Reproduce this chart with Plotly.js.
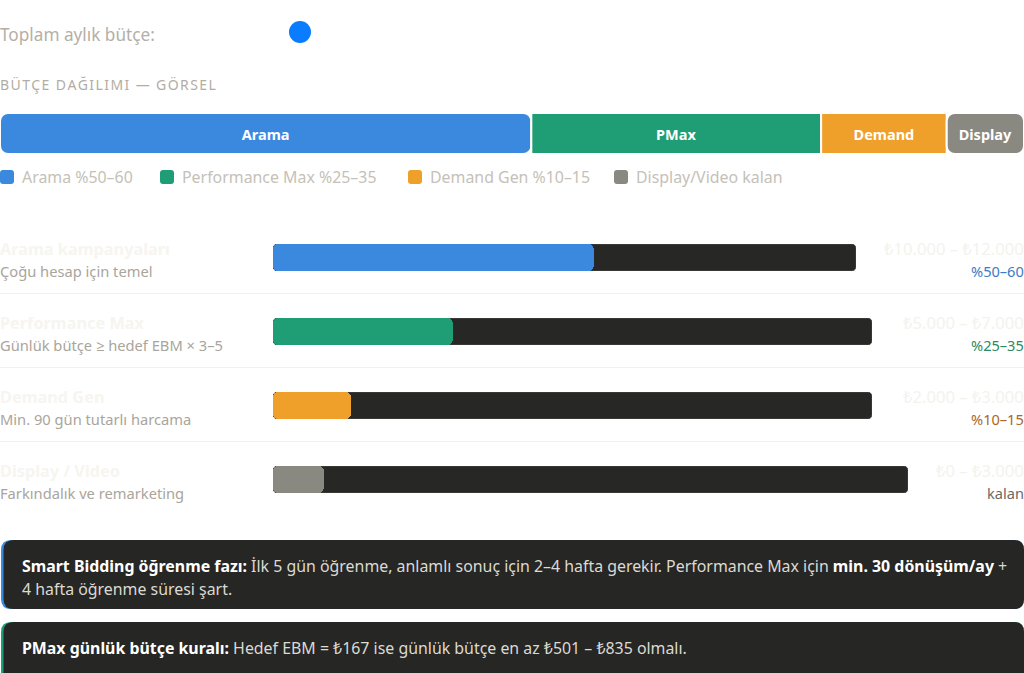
<!DOCTYPE html>
<html><head><meta charset="utf-8">
<script src="https://cdn.plot.ly/plotly-3.0.1.min.js"></script>
<style>html,body{margin:0;padding:0;background:#fff;overflow:hidden}#c{width:1024px;height:673px}</style>
</head><body><div id="c"></div>
<script>
// ---- data ----
const channels = ['Arama','PMax','Demand','Display'];
const shares = [55, 30, 13, 8];
const legendLabels = ['Arama %50–60','Performance Max %25–35','Demand Gen %10–15','Display/Video kalan'];
const rowTitles = ['Arama kampanyaları','Performance Max','Demand Gen','Display / Video'];
const rowSubs = ['Çoğu hesap için temel','Günlük bütçe ≥ hedef EBM × 3–5','Min. 90 gün tutarlı harcama','Farkındalık ve remarketing'];
const amounts = ['₺10.000 – ₺12.000','₺5.000 – ₺7.000','₺2.000 – ₺3.000','₺0 – ₺3.000'];
const pctLabels = ['%50–60','%25–35','%10–15','kalan'];
const trackMax = [100, 100, 100, 100];

// ---- styles / layout positions ----
const colors = ['#3a89de','#1f9e75','#efa02b','#8a8981'];
const pctColors = ['#3b7cc4','#2a8a63','#a8682a','#6b6a66'];
const FONT = 'Noto Sans, Open Sans, sans-serif';
const W = 1024, H = 673;
const px = x => x / W, py = y => 1 - y / H;
const legendX = [0, 160, 408, 614];
const rowCenters = [257.5, 331.5, 405.5, 479.5];
const trackLeft = 273, trackRight = [856, 872, 872, 908];
const barHalf = 13.5;

const traces = [];
// stacked allocation bar
const total = shares.reduce((a,b)=>a+b,0);
let cum = 0;
shares.forEach((v,i)=>{
  const start = cum; cum += v;
  const first = i === 0, last = i === shares.length-1;
  traces.push({
    type:'bar', orientation:'h', y:[0], width:[1],
    base: first ? [start+v] : [start], x: first ? [-v] : [v],
    xaxis:'x', yaxis:'y',
    marker:{color:colors[i], line:{color:'#ffffff', width:2}, cornerradius:(first||last)?8:0},
    text:['<b>'+channels[i]+'</b>'], textposition:'inside', insidetextanchor:'middle',
    textangle:0, constraintext:'none',
    textfont:{family:FONT, size:14.5, color:'#ffffff'},
    hoverinfo:'skip'
  });
});
// progress rows
shares.forEach((v,i)=>{
  const ax = i+2;
  traces.push({
    type:'bar', orientation:'h', y:[0], x:[trackMax[i]], width:[1], base:[0],
    xaxis:'x'+ax, yaxis:'y'+ax,
    marker:{color:'#272725', line:{color:'#4a4a47', width:1}, cornerradius:5},
    hoverinfo:'skip'
  });
  traces.push({
    type:'bar', orientation:'h', y:[0], x:[v], width:[1], base:[0],
    xaxis:'x'+ax, yaxis:'y'+ax,
    marker:{color:colors[i], line:{width:0}, cornerradius:5},
    hoverinfo:'skip'
  });
});

const hiddenAxis = (extra) => Object.assign({visible:false, showgrid:false, zeroline:false, fixedrange:true}, extra);
const layout = {
  width:W, height:H, margin:{l:0,r:0,t:0,b:0,pad:0},
  paper_bgcolor:'#ffffff', plot_bgcolor:'rgba(0,0,0,0)',
  showlegend:false, barmode:'overlay', bargap:0,
  font:{family:FONT},
  xaxis: hiddenAxis({domain:[0,1], range:[0,total]}),
  yaxis: hiddenAxis({domain:[py(154), py(113)], range:[-0.5,0.5]}),
  shapes:[], annotations:[]
};
rowCenters.forEach((c,i)=>{
  const ax = i+2;
  layout['xaxis'+ax] = hiddenAxis({domain:[px(trackLeft), px(trackRight[i])], range:[0,trackMax[i]], anchor:'y'+ax});
  layout['yaxis'+ax] = hiddenAxis({domain:[py(c+barHalf), py(c-barHalf)], range:[-0.5,0.5], anchor:'x'+ax});
});

const A = (x,y,text,opt) => layout.annotations.push(Object.assign({
  xref:'paper', yref:'paper', x:px(x), y:py(y), text:text, showarrow:false,
  borderpad:0, borderwidth:0,
  xanchor:'left', yanchor:'middle', align:'left', font:{family:FONT, size:14, color:'#a9a59c'}
}, opt||{}));

function roundRect(x0,y0,x1,y1,r,color){
  const rx = r/W, ry = r/H;
  const X0=px(x0), X1=px(x1), Y0=py(y0), Y1=py(y1);
  const p = `M${X0+rx},${Y0} L${X1-rx},${Y0} Q${X1},${Y0} ${X1},${Y0-ry} L${X1},${Y1+ry} Q${X1},${Y1} ${X1-rx},${Y1} L${X0+rx},${Y1} Q${X0},${Y1} ${X0},${Y1+ry} L${X0},${Y0-ry} Q${X0},${Y0} ${X0+rx},${Y0} Z`;
  layout.shapes.push({type:'path', xref:'paper', yref:'paper', path:p, fillcolor:color, line:{width:0}, layer:'below'});
}

// header
A(0, 34, 'Toplam aylık bütçe:', {font:{family:FONT, size:17.2, color:'#b4afa6'}});
layout.shapes.push({type:'circle', xref:'paper', yref:'paper', x0:px(289), x1:px(311), y0:py(43), y1:py(21), fillcolor:'#0a7cff', line:{width:0}});
const spaced = s => Array.from(s).join('\u200A');
A(0, 84, spaced('BÜTÇE DAĞILIMI — GÖRSEL'), {font:{family:FONT, size:14, color:'#b2ada4'}});

// legend
legendLabels.forEach((t,i)=>{
  roundRect(legendX[i], 170, legendX[i]+14, 184, 3, colors[i]);
  A(legendX[i]+22, 177.5, t, {font:{family:FONT, size:15.9, color:'#c5c1b8'}});
});

// rows
rowCenters.forEach((c,i)=>{
  A(0, c-9, '<b>'+rowTitles[i]+'</b>', {font:{family:FONT, size:16.3, color:'#f6f5f0'}});
  A(0, c+13.5, rowSubs[i], {font:{family:FONT, size:14.7, color:'#a9a59c'}});
  A(1023.5, c-9, amounts[i], {xanchor:'right', font:{family:FONT, size:16.6, color:'#f3f3ed'}});
  A(1023.5, c+13.5, pctLabels[i], {xanchor:'right', font:{family:FONT, size:14.6, color:pctColors[i]}});
  if (i>0) layout.shapes.push({type:'line', xref:'paper', yref:'paper', x0:0, x1:1, y0:py(c-38), y1:py(c-38), line:{color:'#f1f0ed', width:1}});
});

// notes
roundRect(1, 540, 1024, 609, 10, '#3a89de');
roundRect(3.5, 540, 1024, 609, 10, '#262624');
roundRect(1, 622, 1024, 690, 10, '#1f9e75');
roundRect(3.5, 622, 1024, 690, 10, '#262624');
const W1 = '<span style="color:#ffffff"><b>', W2 = '</b></span>';
const NF = {family:FONT, size:15.9, color:'#dcdad3'};
A(22, 566, W1+'Smart Bidding öğrenme fazı:'+W2+' İlk 5 gün öğrenme, anlamlı sonuç için 2–4 hafta gerekir. Performance Max için '+W1+'min. 30 dönüşüm/ay'+W2+' +', {font:NF});
A(22, 589, '4 hafta öğrenme süresi şart.', {font:NF});
A(22, 648, W1+'PMax günlük bütçe kuralı:'+W2+' Hedef EBM = ₺167 ise günlük bütçe en az ₺501 – ₺835 olmalı.', {font:NF});

Plotly.newPlot('c', traces, layout, {staticPlot:true, displayModeBar:false});
</script></body></html>
